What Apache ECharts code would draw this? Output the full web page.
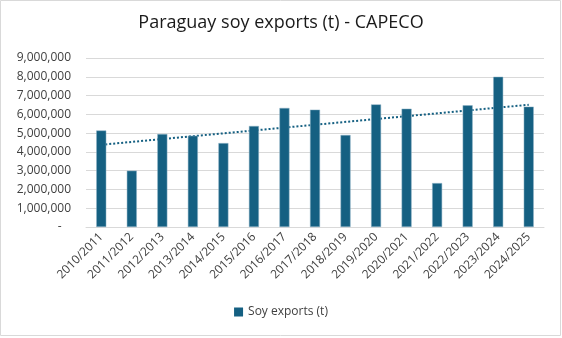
<!DOCTYPE html>
<html>
<head>
<meta charset="utf-8">
<script src="https://cdn.jsdelivr.net/npm/echarts@6/dist/echarts.min.js"></script>
<style>
html,body{margin:0;padding:0;background:#fff;}
#c{width:562px;height:338px;}
</style>
</head>
<body>
<div id="c"></div>
<script>
const categories = ['2010/2011','2011/2012','2012/2013','2013/2014','2014/2015','2015/2016','2016/2017','2017/2018','2018/2019','2019/2020','2020/2021','2021/2022','2022/2023','2023/2024','2024/2025'];
const soyExports = [5140000, 3000000, 4950000, 4860000, 4470000, 5380000, 6340000, 6250000, 4900000, 6530000, 6300000, 2340000, 6480000, 8000000, 6410000];
const trendLine = [4380000, null, null, null, null, null, null, null, null, null, null, null, null, null, 6510000];
const yTicks = {min: 0, max: 9000000, interval: 1000000};

const chart = echarts.init(document.getElementById('c'));
const font = '"Open Sans", sans-serif';
chart.setOption({
  animation: false,
  backgroundColor: '#fff',
  title: {
    text: 'Paraguay soy exports (t) - CAPECO',
    left: 'center', top: 9,
    textStyle: {fontFamily: font, fontSize: 18, fontWeight: 'normal', color: '#1a1a1a'}
  },
  graphic: [{
    type: 'rect', silent: true, z: -1,
    shape: {x: 0.5, y: 0.5, width: 560, height: 335},
    style: {fill: 'none', stroke: '#d9d9d9', lineWidth: 1}
  }],
  legend: {
    bottom: 15, left: 'center',
    data: ['Soy exports (t)'],
    icon: 'rect', itemWidth: 9, itemHeight: 9, itemGap: 5,
    itemStyle: {borderWidth: 0},
    textStyle: {fontFamily: font, fontSize: 12, color: '#404040'}
  },
  grid: {left: 86, right: 18, top: 58, bottom: 111, containLabel: false},
  xAxis: {
    type: 'category', data: categories,
    axisLine: {lineStyle: {color: '#d9d9d9'}},
    axisTick: {show: false},
    axisLabel: {rotate: 45, interval: 0, margin: 8, fontFamily: font, fontSize: 12, color: '#404040'}
  },
  yAxis: {
    type: 'value', min: yTicks.min, max: yTicks.max, interval: yTicks.interval,
    axisLine: {show: false}, axisTick: {show: false},
    splitLine: {lineStyle: {color: '#d9d9d9'}},
    axisLabel: {
      margin: 15, fontFamily: font, fontSize: 12, color: '#404040',
      formatter: v => v === 0 ? '-   ' : v.toLocaleString('en-US')
    }
  },
  series: [{
    name: 'Soy exports (t)', type: 'bar', data: soyExports, barWidth: 10, z: 3,
    itemStyle: {color: '#156082', borderColor: '#8fb3c6', borderWidth: 0.5}
  }, {
    name: 'Trend', type: 'line', data: trendLine, connectNulls: true,
    symbol: 'none', z: 1,
    lineStyle: {color: '#156082', width: 2, type: [2, 2], cap: 'butt'}
  }]
});
</script>
</body>
</html>
